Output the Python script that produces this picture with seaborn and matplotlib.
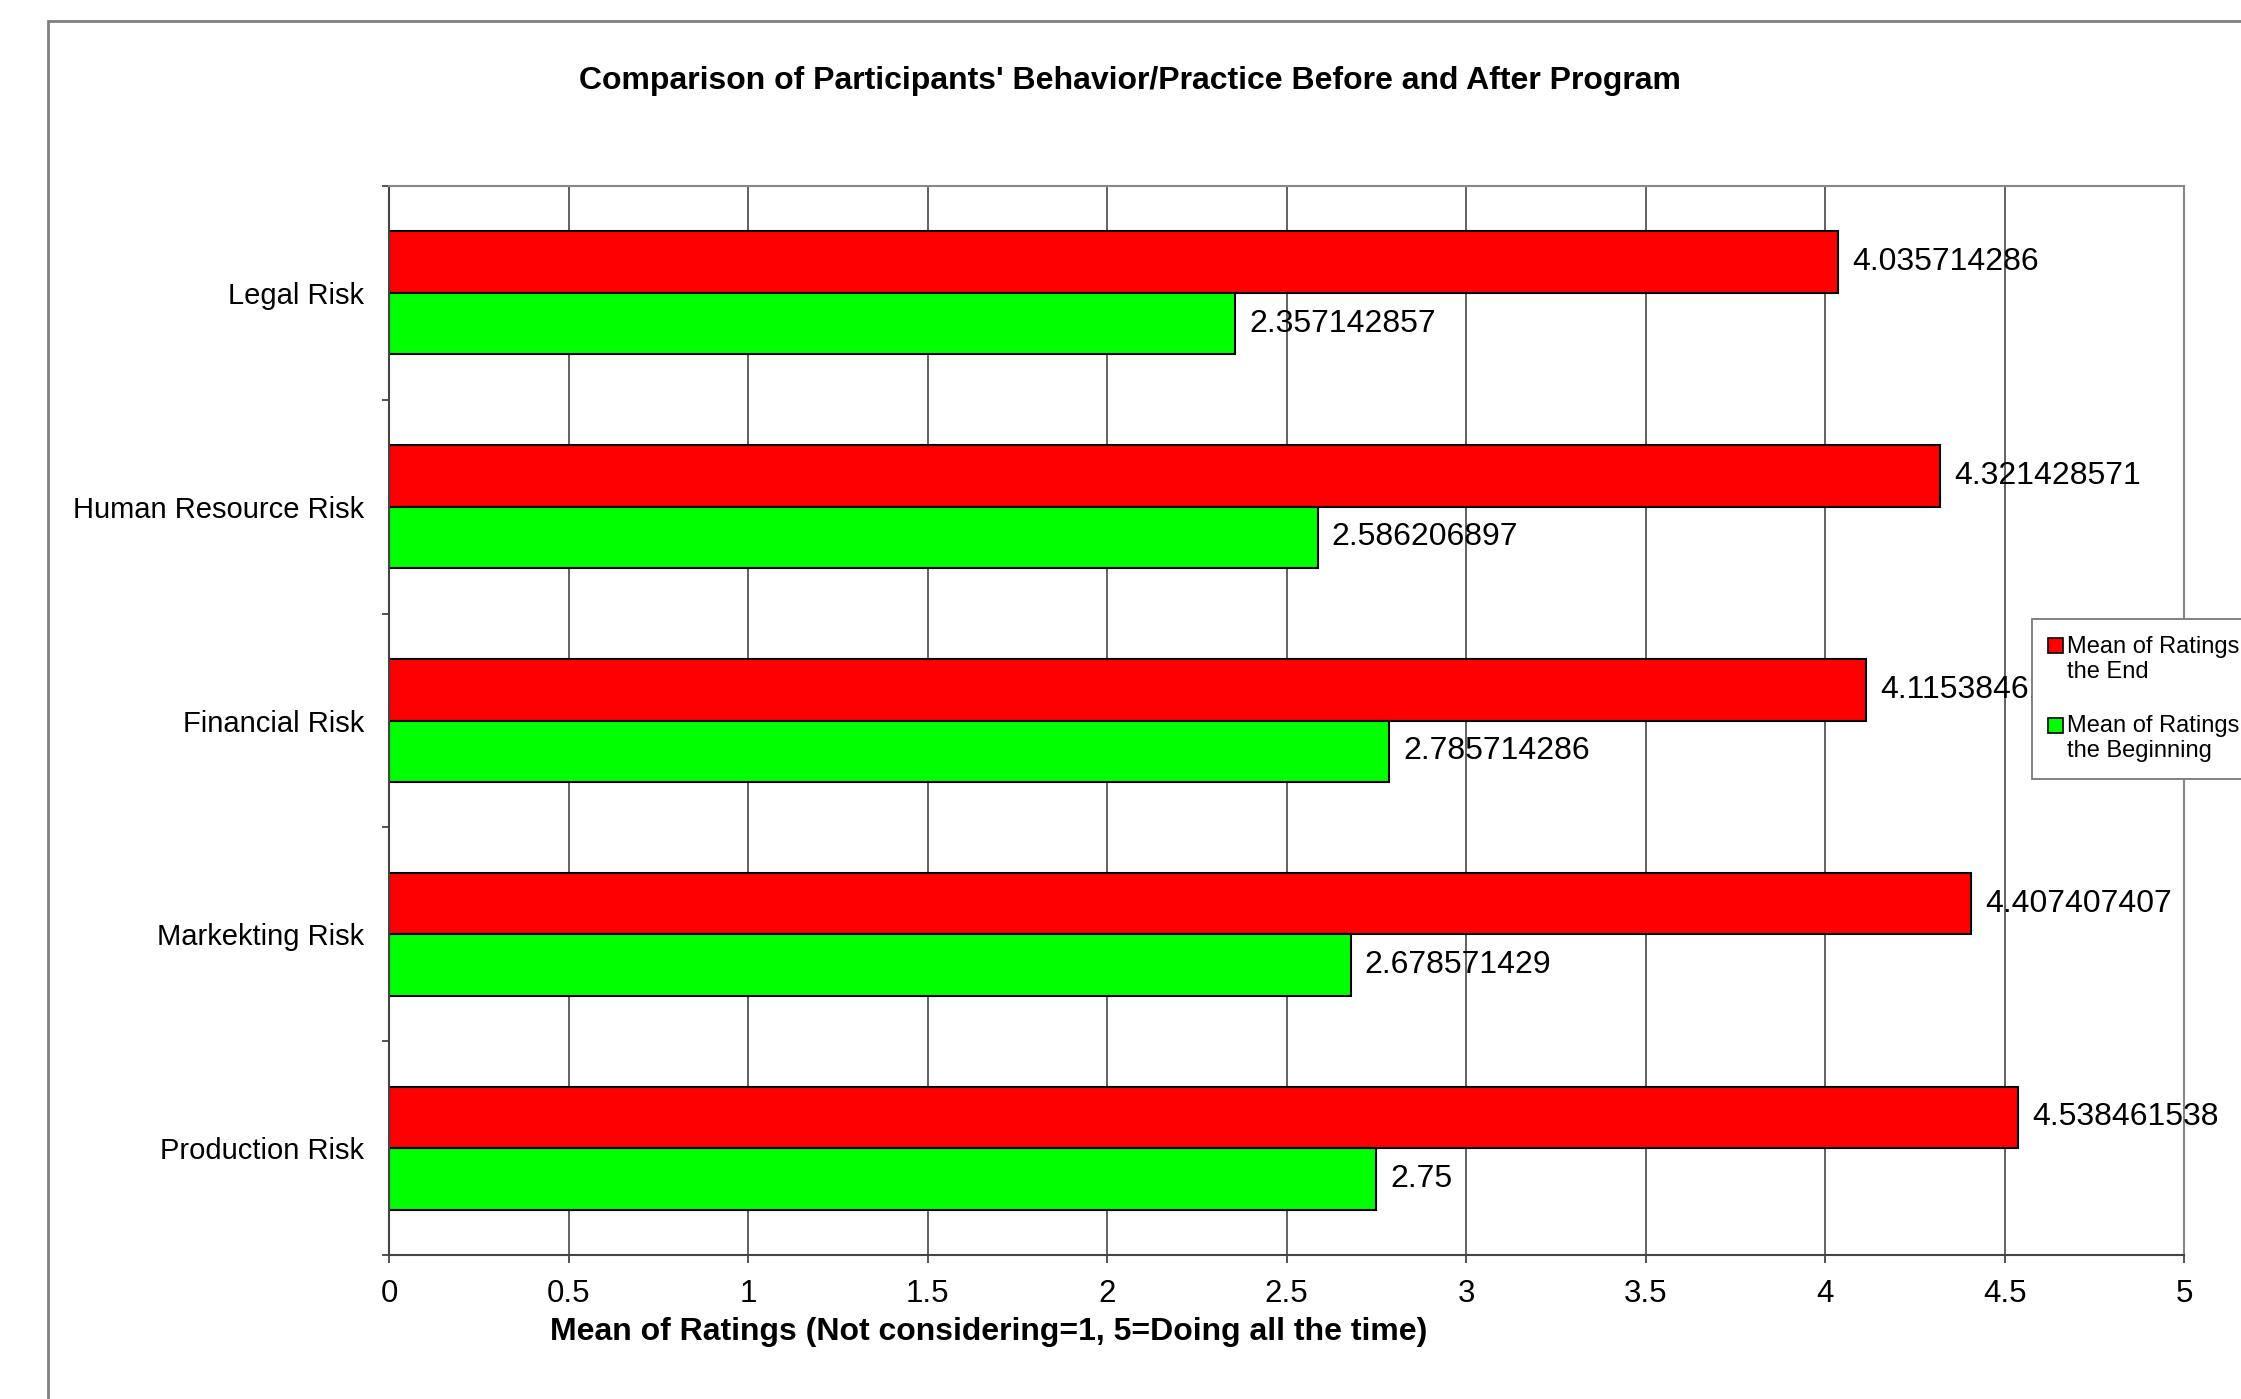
import matplotlib
matplotlib.use('Agg')
import matplotlib.pyplot as plt
import seaborn as sns
import pandas as pd
from matplotlib.patches import Rectangle, Patch
from matplotlib.ticker import FixedLocator
from matplotlib.legend_handler import HandlerPatch

# Data
risks = ['Legal Risk', 'Human Resource Risk', 'Financial Risk', 'Markekting Risk', 'Production Risk']
end_means = [4.035714286, 4.321428571, 4.115384615, 4.407407407, 4.538461538]
begin_means = [2.357142857, 2.586206897, 2.785714286, 2.678571429, 2.75]
series_names = ['Mean of Ratings\nthe End', 'Mean of Ratings\nthe Beginning']
series_colors = ['#ff0000', '#00ff00']
x_ticks = [0, 0.5, 1, 1.5, 2, 2.5, 3, 3.5, 4, 4.5, 5]
x_ticklabels = ['0', '0.5', '1', '1.5', '2', '2.5', '3', '3.5', '4', '4.5', '5']

df = pd.DataFrame({
    'Risk': risks * 2,
    'Series': [series_names[0]] * len(risks) + [series_names[1]] * len(risks),
    'Mean': end_means + begin_means,
})

sns.set_style('white')
plt.rcParams['font.family'] = ['Liberation Sans', 'DejaVu Sans']
plt.rcParams['text.color'] = 'black'
plt.rcParams['xtick.labelcolor'] = 'black'
plt.rcParams['ytick.labelcolor'] = 'black'

fig = plt.figure(figsize=(22.41, 13.99), dpi=100)
ax = fig.add_axes([0.1736, 0.1029, 0.801, 0.7641])

sns.barplot(data=df, y='Risk', x='Mean', hue='Series', hue_order=series_names,
            order=risks, palette=series_colors, orient='h', width=0.575,
            edgecolor='black', linewidth=1.5, saturation=1, ax=ax)

# value labels next to each bar
for cont, vals in zip(ax.containers, [end_means, begin_means]):
    ax.bar_label(cont, labels=['{:.10g}'.format(v) for v in vals], padding=10,
                 fontsize=23, color='black')

ax.set_xlim(0, 5)
ax.set_ylim(4.5, -0.5)
ax.set_xticks(x_ticks)
ax.set_xticklabels(x_ticklabels)
ax.grid(axis='x', color='#555555', linewidth=1.3)
ax.set_axisbelow(True)
ax.set_xlabel('')
ax.set_ylabel('')

ax.tick_params(axis='x', which='major', bottom=True, length=6, width=1.3, color='#444444',
               pad=11, labelsize=22.5)
ax.tick_params(axis='y', which='major', left=False, length=0, pad=18, labelsize=21)
ax.yaxis.set_minor_locator(FixedLocator([-0.5, 0.5, 1.5, 2.5, 3.5, 4.5]))
ax.tick_params(axis='y', which='minor', left=True, length=5, width=1.3, color='#444444')

for side in ['top', 'right']:
    ax.spines[side].set_color('#888888')
    ax.spines[side].set_linewidth(1.5)
for side in ['left', 'bottom']:
    ax.spines[side].set_color('#444444')
    ax.spines[side].set_linewidth(1.5)


# legend square sits on the first line of the two-line label
def top_square(legend, orig_handle, xdescent, ydescent, width, height, fontsize):
    return Rectangle((-xdescent, -ydescent + 0.58 * fontsize), width, height)


ax.legend_.remove()
handles = [Patch(facecolor=c, edgecolor='black', linewidth=1.2) for c in series_colors]
leg = fig.legend(handles, series_names, loc='upper left', bbox_to_anchor=(0.9067, 0.5575),
                 fontsize=17, frameon=True, fancybox=False, framealpha=1,
                 edgecolor='#777777', handlelength=0.6, handleheight=0.6,
                 handletextpad=0.2, labelspacing=1.36, borderpad=0.7, borderaxespad=0,
                 handler_map={Patch: HandlerPatch(patch_func=top_square)})
leg.get_frame().set_linewidth(1.3)

fig.text(0.504, 0.942, "Comparison of Participants' Behavior/Practice Before and After Program",
         ha='center', va='center', fontsize=23, fontweight='bold')
fig.text(0.441, 0.048, 'Mean of Ratings (Not considering=1, 5=Doing all the time)',
         ha='center', va='center', fontsize=23, fontweight='bold')

# outer chart frame (runs past right and bottom edges)
fig.add_artist(Rectangle((0.0214, -0.2), 1.2, 1.185, transform=fig.transFigure,
                         fill=False, edgecolor='#808080', linewidth=2))

fig.savefig('out.png', dpi=100)
